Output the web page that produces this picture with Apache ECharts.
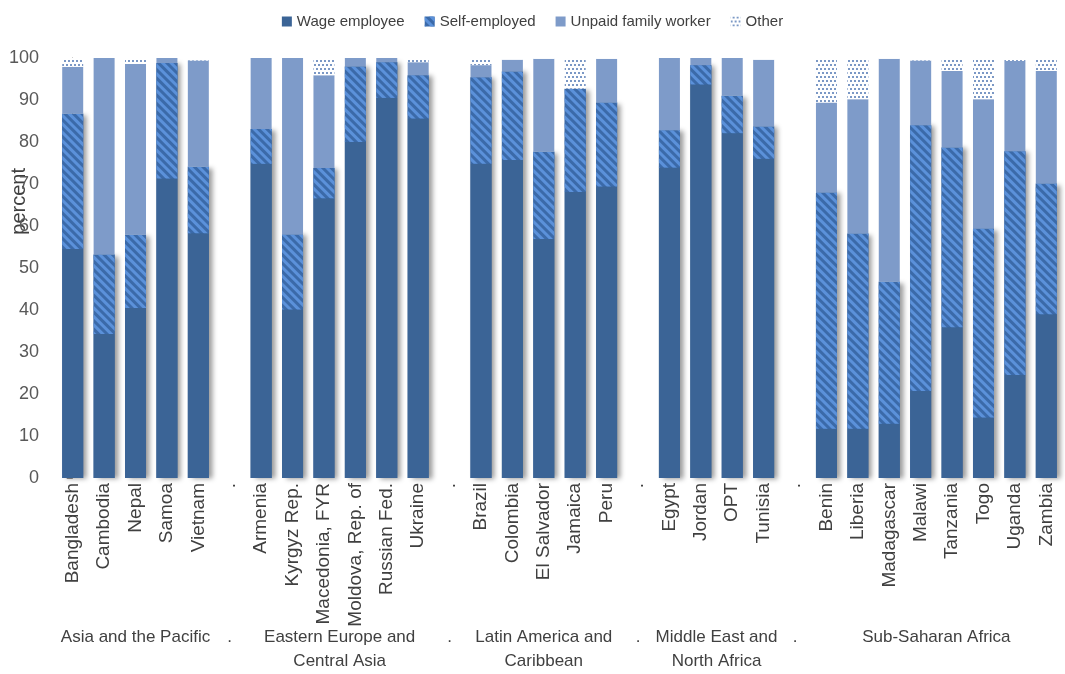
<!DOCTYPE html>
<html>
<head>
<meta charset="utf-8">
<script src="https://cdn.jsdelivr.net/npm/echarts@6/dist/echarts.min.js"></script>
<style>html,body{margin:0;padding:0;background:#fff}#c{width:1065px;height:674px}</style>
</head>
<body>
<div id="c"></div>
<script>
// '.' entries are gaps between regional groups
const countries = ['Bangladesh','Cambodia','Nepal','Samoa','Vietnam','.',
  'Armenia','Kyrgyz Rep.','Macedonia, FYR','Moldova, Rep. of','Russian Fed.','Ukraine','.',
  'Brazil','Colombia','El Salvador','Jamaica','Peru','.',
  'Egypt','Jordan','OPT','Tunisia','.',
  'Benin','Liberia','Madagascar','Malawi','Tanzania','Togo','Uganda','Zambia'];
const regions = ['Asia and the Pacific','Eastern Europe and\nCentral Asia','Latin America and\nCaribbean','Middle East and\nNorth Africa','Sub-Saharan Africa'];
const wage = [54.5,34.3,40.5,71.3,58.3,null,
  74.8,40.1,66.6,80.0,90.5,85.6,null,
  74.8,75.7,56.9,68.1,69.4,null,
  73.9,93.7,82.1,76.0,null,
  11.7,11.7,12.9,20.7,35.9,14.4,24.5,39.0];
const selfEmployed = [32.2,18.9,17.4,27.5,15.8,null,
  8.3,17.9,7.2,18.0,8.5,10.3,null,
  20.6,21.1,20.8,24.6,20.0,null,
  8.9,4.6,8.9,7.7,null,
  56.3,46.5,33.8,63.3,42.8,45.0,53.3,31.1];
const unpaid = [11.2,46.8,40.7,1.2,25.3,null,
  16.9,42.0,22.1,2.0,1.0,3.1,null,
  2.9,2.8,22.1,0,10.4,null,
  17.2,1.7,9.0,15.9,null,
  21.4,32.0,53.1,15.4,18.2,30.8,21.5,26.8];
const other = [2.1,0,1.4,0,0.6,null,
  0,0,4.1,0,0,1.0,null,
  1.7,0.4,0.2,7.3,0.2,null,
  0,0,0,0.4,null,
  10.6,9.8,0.2,0.6,3.1,9.8,0.7,3.1];
const yTicks = [0,10,20,30,40,50,60,70,80,90,100];
const seriesNames = ['Wage employee','Self-employed','Unpaid family worker','Other'];

// region label positions (centre of each group, in category units)
const regionPos = {}; const sepPos = [];
(function(){
  let start = 0, g = 0;
  for (let i = 0; i <= countries.length; i++) {
    if (i === countries.length || countries[i] === '.') {
      regionPos[((start + i - 1) / 2).toFixed(1)] = regions[g++];
      if (i < countries.length) sepPos.push(i.toFixed(1));
      start = i + 1;
    }
  }
})();
// height of the two shadowed (lower) segments, used only to cast the drop shadow
const shadowBase = wage.map((w, i) => w == null ? null : w + selfEmployed[i]);

const FR = '"Liberation Sans",Arial,sans-serif';

const chart = echarts.init(document.getElementById('c'), null, {renderer:'canvas'});
chart.setOption({
  animation:false,
  backgroundColor:'#fff',
  legend:{
    data:seriesNames,
    top:9, left:'center', icon:'rect', itemWidth:10, itemHeight:10, itemGap:20,
    textStyle:{fontFamily:FR, fontSize:15, color:'#404040'}
  },
  grid:{left:57, right:1, top:58, bottom:196, containLabel:false},
  xAxis:[{
    type:'category', data:countries,
    axisLine:{show:false}, axisTick:{show:false},
    axisLabel:{interval:0, rotate:90, margin:5, fontFamily:FR, fontSize:19, color:'#404040'}
  },{
    type:'value', position:'bottom', min:-0.5, max:countries.length-0.5, interval:0.5,
    axisLine:{show:false}, axisTick:{show:false}, splitLine:{show:false},
    axisLabel:{margin:147, fontFamily:FR, fontSize:17, lineHeight:24, color:'#404040',
      showMinLabel:true, showMaxLabel:true,
      formatter:function(v){const k=Number(v).toFixed(1); if(regionPos[k]) return regionPos[k]; if(sepPos.indexOf(k)>=0) return '.'; return '';}}
  }],
  yAxis:{
    type:'value', min:0, max:100, interval:10,
    axisLine:{show:true, lineStyle:{color:'#8c8c8c'}},
    axisTick:{show:true, length:6, lineStyle:{color:'#8c8c8c'}},
    splitLine:{show:false},
    axisLabel:{margin:18, fontFamily:FR, fontSize:18, color:'#595959',
      formatter:function(v){return yTicks.indexOf(v)>=0 ? String(v) : '';}}
  },
  graphic:[{type:'text', left:9, top:168, rotation:Math.PI/2,
    style:{text:'percent', font:'20px "Liberation Sans", Arial, sans-serif', fill:'#404040'}}],
  series:[
    {name:'shadow', type:'bar', stack:'shadow', barWidth:21, barGap:'-100%', data:shadowBase, z:1, silent:true,
      itemStyle:{color:'#3b6496', shadowColor:'rgba(0,0,0,0.4)', shadowBlur:5, shadowOffsetX:4, shadowOffsetY:1}},
    {name:'Wage employee', type:'bar', stack:'s', barWidth:21, barGap:'-100%', data:wage, z:2,
      itemStyle:{color:'#3b6496'}},
    {name:'Self-employed', type:'bar', stack:'s', barWidth:21, data:selfEmployed, z:2,
      itemStyle:{color:'#3b6aa9',
        decal:{symbol:'rect', symbolSize:1, color:'#5b91da', dashArrayX:[1,0], dashArrayY:[3,3], rotation:Math.PI/4}}},
    {name:'Unpaid family worker', type:'bar', stack:'s', barWidth:21, data:unpaid, z:2,
      itemStyle:{color:'#7e9bc9'}},
    {name:'Other', type:'bar', stack:'s', barWidth:21, data:other, z:2,
      itemStyle:{color:'#ffffff',
        decal:{symbol:'circle', symbolSize:1, color:'#4f76b2', dashArrayX:[[2,2],[0,2,2,0]], dashArrayY:[2,2], rotation:0}}}
  ]
});
</script>
</body>
</html>
